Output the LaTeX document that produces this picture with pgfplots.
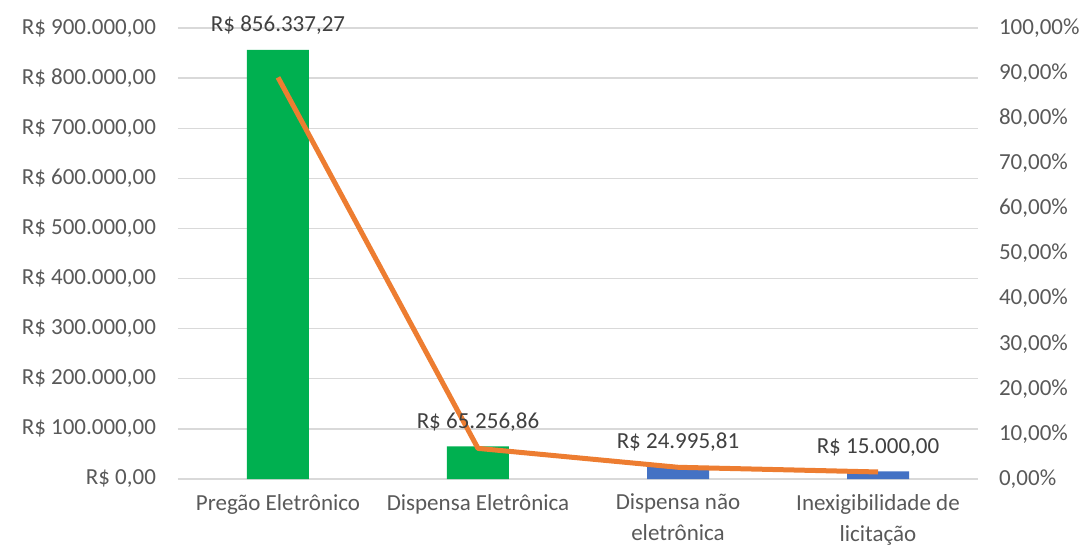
\documentclass[border=0pt]{standalone}
\usepackage{pgfplots}
\pgfplotsset{compat=1.18}
\usepackage{fontspec}
\setmainfont{Carlito}
\definecolor{gridgray}{HTML}{D9D9D9}
\definecolor{textgray}{HTML}{595959}
\definecolor{labgray}{HTML}{404040}
\definecolor{xlgreen}{HTML}{00B050}
\definecolor{xlblue}{HTML}{4472C4}
\definecolor{xlorange}{HTML}{ED7D31}
\newcommand{\cfont}{\fontsize{11.5}{15.5}\selectfont}
\pgfplotsset{
  common/.style={
    at={(0,0)}, anchor=south west,
    scale only axis, width=400pt, height=225.5pt,
    xmin=-0.5, xmax=3.5, clip=false,
    major tick length=0pt,
    axis line style={draw=none},
  },
}
\begin{document}
\begin{tikzpicture}
\path[use as bounding box] (-89pt,-34.5pt) rectangle (455pt,239.5pt);
% bars
\begin{axis}[
  common,
  ymin=0, ymax=900000,
  ytick={0,100000,200000,300000,400000,500000,600000,700000,800000,900000},
  yticklabels={R\$ 0{,}00, R\$ 100.000{,}00, R\$ 200.000{,}00, R\$ 300.000{,}00, R\$ 400.000{,}00, R\$ 500.000{,}00, R\$ 600.000{,}00, R\$ 700.000{,}00, R\$ 800.000{,}00, R\$ 900.000{,}00},
  xtick={0,1,2,3},
  xticklabels={Pregão Eletrônico, Dispensa Eletrônica, {Dispensa não\\eletrônica}, {Inexigibilidade de\\licitação}},
  ymajorgrids,
  grid style={draw=gridgray, line width=0.7pt},
  tick label style={font=\cfont, text=textgray},
  yticklabel style={anchor=east, xshift=-7.5pt},
  xticklabel style={align=center, anchor=north, yshift=-4pt},
  scaled y ticks=false,
  ybar, bar width=31pt,
]
\addplot[fill=xlgreen, draw=none, bar shift=0pt] coordinates {
  (0,856337.27) (1,65256.86)
};
\addplot[fill=xlblue, draw=none, bar shift=0pt] coordinates {
  (2,24995.81) (3,15000.00)
};
\end{axis}
% percentage line
\begin{axis}[
  common,
  ymin=0, ymax=100,
  axis y line*=right, axis x line=none,
  ytick={0,10,20,30,40,50,60,70,80,90,100},
  yticklabels={0{,}00\%,10{,}00\%,20{,}00\%,30{,}00\%,40{,}00\%,50{,}00\%,60{,}00\%,70{,}00\%,80{,}00\%,90{,}00\%,100{,}00\%},
  tick label style={font=\cfont, text=textgray},
  yticklabel style={anchor=west, xshift=7pt},
]
\addplot[xlorange, line width=2.5pt, line cap=butt, line join=round, mark=none] coordinates {
  (0,89.05) (1,6.79) (2,2.60) (3,1.56)
};
\end{axis}
% data labels on top
\begin{axis}[
  common,
  ymin=0, ymax=900000,
  hide axis,
  ybar, bar width=31pt,
  nodes near coords={\pgfplotspointmeta},
  point meta=explicit symbolic,
  every node near coord/.append style={font=\cfont, text=labgray, anchor=south, yshift=4pt},
]
\addplot[draw=none, fill=none, bar shift=0pt] coordinates {
  (0,856337.27) [R\$ 856.337,27]
  (1,65256.86) [R\$ 65.256,86]
  (2,24995.81) [R\$ 24.995,81]
  (3,15000.00) [R\$ 15.000,00]
};
\end{axis}
\end{tikzpicture}
\end{document}
